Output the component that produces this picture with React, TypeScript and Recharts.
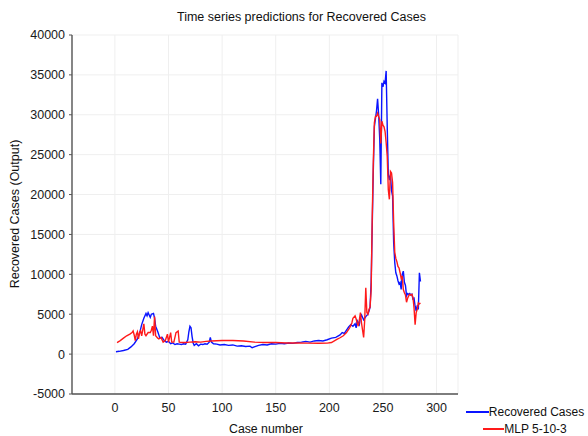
import { LineChart, Line, XAxis, YAxis, CartesianGrid } from 'recharts'

// case numbers and values
const recoveredCase = [
  1, 4, 8, 12, 15, 18, 21, 23, 25, 27, 29, 30, 31, 33, 34, 36, 37, 38, 40, 42, 44, 46, 48, 50, 52, 54, 56, 58, 60, 62,
  64, 66, 68, 69, 70, 71, 72, 73, 74, 76, 78, 80, 82, 84, 86, 88, 89, 90, 92, 95, 98, 102, 106, 110, 114, 118, 122, 126, 128, 130,
  134, 138, 142, 146, 150, 154, 158, 162, 166, 170, 174, 178, 182, 186, 190, 194, 198, 202, 206, 210, 212, 214, 216, 218, 220, 222, 224, 225, 226, 228,
  229, 230, 232, 234, 236, 237, 238, 239, 240, 241, 242, 243, 244, 245, 246, 247, 248, 249, 250, 251, 252, 253, 254, 255, 256, 257, 258, 259, 260, 261,
  262, 263, 264, 265, 266, 267, 268, 269, 270, 271, 272, 273, 274, 275, 276, 277, 278, 279, 280, 281, 282, 283, 284, 285,
]
const recoveredValue = [
  300, 350, 450, 600, 900, 1300, 1900, 2600, 3700, 4500, 5100, 4800, 5200, 4600, 5000, 5100, 4500, 3500, 2800, 2000, 2100, 1700, 1500, 1600, 1300, 1400, 1200, 1300, 1250, 1200,
  1300, 1250, 1800, 2800, 3500, 3300, 2200, 1400, 1100, 1300, 1050, 1250, 1200, 1300, 1250, 1500, 2100, 1500, 1300, 1250, 1150, 1200, 1100, 1150, 1000, 1050, 950, 1000, 800, 900,
  1100, 1200, 1150, 1300, 1250, 1350, 1300, 1400, 1350, 1450, 1500, 1600, 1500, 1650, 1700, 1650, 1800, 2000, 2100, 2400, 2700, 2600, 3000, 3400, 3700, 3500, 3800, 3300, 4200, 3700,
  4600, 4900, 4300, 4700, 5000, 5400, 5900, 9000, 16000, 23000, 28500, 29500, 30500, 32000, 30000, 27000, 21300, 34000, 33500, 34200, 34000, 35500, 28500, 22500, 21800, 22500, 20500, 19800, 14000, 11500,
  10200, 9800, 9200, 8800, 9000, 8100, 10000, 10400, 9000, 8600, 7300, 7600, 7500, 7600, 7400, 7500, 6900, 7000, 6000, 5400, 6100, 5600, 10200, 9100,
]

const mlpCase = [
  2, 5, 8, 11, 14, 16, 17, 18, 19, 20, 21, 22, 23, 24, 25, 27, 28, 29, 31, 33, 34, 35, 36, 37, 38, 40, 41, 43, 45, 47,
  49, 50, 52, 53, 55, 57, 59, 60, 63, 66, 70, 75, 80, 85, 90, 100, 110, 120, 130, 140, 150, 160, 170, 180, 190, 198, 202, 207, 210, 213,
  216, 218, 219, 221, 222, 224, 225, 226, 227, 228, 229, 230, 232, 233, 234, 235, 236, 237, 238, 239, 240, 241, 242, 243, 244, 245, 246, 247, 248, 249,
  250, 251, 252, 253, 254, 255, 256, 257, 258, 259, 260, 261, 262, 263, 264, 265, 266, 267, 268, 269, 270, 271, 272, 273, 274, 275, 276, 277, 278, 279,
  280, 281, 282, 283, 284, 285,
]
const mlpValue = [
  1450, 1700, 2000, 2300, 2500, 2700, 2900, 2400, 1700, 2500, 2800, 1900, 2700, 2900, 2300, 3800, 2500, 2300, 2700, 2700, 3000, 3500, 2300, 4700, 2300, 2000, 1900, 2100, 1500, 1700,
  2500, 1500, 2700, 1500, 1500, 2700, 2900, 1500, 1450, 1450, 1500, 1550, 1500, 1600, 1650, 1700, 1700, 1650, 1500, 1450, 1450, 1400, 1400, 1380, 1360, 1380, 1450, 1850, 2050, 2300,
  2700, 3100, 3300, 3900, 4500, 4800, 4400, 3900, 3500, 4300, 5200, 3900, 2100, 4300, 8300, 5200, 5000, 5600, 5900, 8000, 17000, 24000, 29000, 29800, 29800, 30200, 29800, 29400, 26400, 29200,
  28700, 28500, 27900, 26500, 24800, 20600, 19400, 22900, 22700, 21500, 16500, 12800, 12000, 11600, 11000, 10800, 10200, 9500, 9800, 8100, 7700, 7400, 6500, 7000, 7300, 7500, 7400, 7500, 7100, 5800,
  3700, 5200, 5600, 6400, 6300, 6400,
]

const xTicks = [0, 50, 100, 150, 200, 250, 300]
const yTicks = [-5000, 0, 5000, 10000, 15000, 20000, 25000, 30000, 35000, 40000]

const recoveredData = recoveredCase.map((x, i) => ({ x, y: recoveredValue[i] }))
const mlpData = mlpCase.map((x, i) => ({ x, y: mlpValue[i] }))

const FONT = 'Arial, "Liberation Sans", Helvetica, sans-serif'
const AXIS = '#555'
const BLUE = '#0a14ff'
const RED = '#ff1a1a'
const tickStyle = { fill: '#1a1a1a', fontSize: 12.5, fontFamily: FONT }

const legendItems = [
  { name: 'Recovered Cases', color: BLUE, lineWidth: 23 },
  { name: 'MLP 5-10-3', color: RED, lineWidth: 21 },
]

export default function App() {
  return (
    <div style={{ position: 'absolute', left: 0, top: 0, width: 588, height: 436, background: '#fff', fontFamily: FONT }}>
      <div style={{ position: 'absolute', left: 177, top: 10, fontSize: 12.5, color: '#111', whiteSpace: 'nowrap' }}>
        Time series predictions for Recovered Cases
      </div>

      <LineChart width={588} height={436} margin={{ top: 35, right: 130, bottom: 12, left: 0 }}>
        <CartesianGrid stroke="#efefef" strokeWidth={1} />
        <XAxis
          dataKey="x"
          type="number"
          domain={[-40, 320]}
          ticks={xTicks}
          allowDataOverflow
          height={30}
          tickSize={0}
          tickMargin={9}
          axisLine={{ stroke: AXIS, strokeWidth: 1.4 }}
          tick={tickStyle}
        />
        <XAxis
          xAxisId="top"
          orientation="top"
          type="number"
          domain={[-40, 320]}
          ticks={xTicks}
          allowDataOverflow
          height={0}
          mirror
          tickSize={4}
          tickFormatter={() => ''}
          axisLine={{ stroke: AXIS, strokeWidth: 1.4 }}
          tickLine={{ stroke: AXIS }}
        />
        <YAxis
          type="number"
          domain={[-5000, 40000]}
          ticks={yTicks}
          allowDataOverflow
          width={72}
          tickSize={3}
          tickMargin={4}
          axisLine={{ stroke: AXIS, strokeWidth: 1.4 }}
          tickLine={{ stroke: AXIS }}
          tick={tickStyle}
        />
        <YAxis
          yAxisId="right"
          orientation="right"
          type="number"
          domain={[-5000, 40000]}
          ticks={yTicks}
          allowDataOverflow
          width={0}
          mirror
          tickSize={4}
          tickFormatter={() => ''}
          axisLine={{ stroke: AXIS, strokeWidth: 1.4 }}
          tickLine={{ stroke: AXIS }}
        />
        <Line data={recoveredData} dataKey="y" type="linear" stroke={BLUE} strokeWidth={1.4} dot={false} isAnimationActive={false} />
        <Line data={mlpData} dataKey="y" type="linear" stroke={RED} strokeWidth={1.4} dot={false} isAnimationActive={false} />
      </LineChart>

      <div style={{ position: 'absolute', left: 229, top: 422, fontSize: 12.3, color: '#111', whiteSpace: 'nowrap' }}>
        Case number
      </div>
      <div
        style={{
          position: 'absolute',
          left: 15,
          top: 214,
          fontSize: 12.5,
          color: '#111',
          whiteSpace: 'nowrap',
          transform: 'translate(-50%, -50%) rotate(-90deg)',
        }}
      >
        Recovered Cases (Output)
      </div>

      <div style={{ position: 'absolute', left: 440, top: 403, width: 170, fontSize: 12, color: '#111' }}>
        {legendItems.map((item) => (
          <div key={item.name} style={{ display: 'flex', justifyContent: 'center', alignItems: 'center', height: 17 }}>
            <span style={{ display: 'inline-block', width: item.lineWidth, height: 2, background: item.color }} />
            <span style={{ whiteSpace: 'nowrap' }}>{item.name}</span>
          </div>
        ))}
      </div>
    </div>
  )
}
